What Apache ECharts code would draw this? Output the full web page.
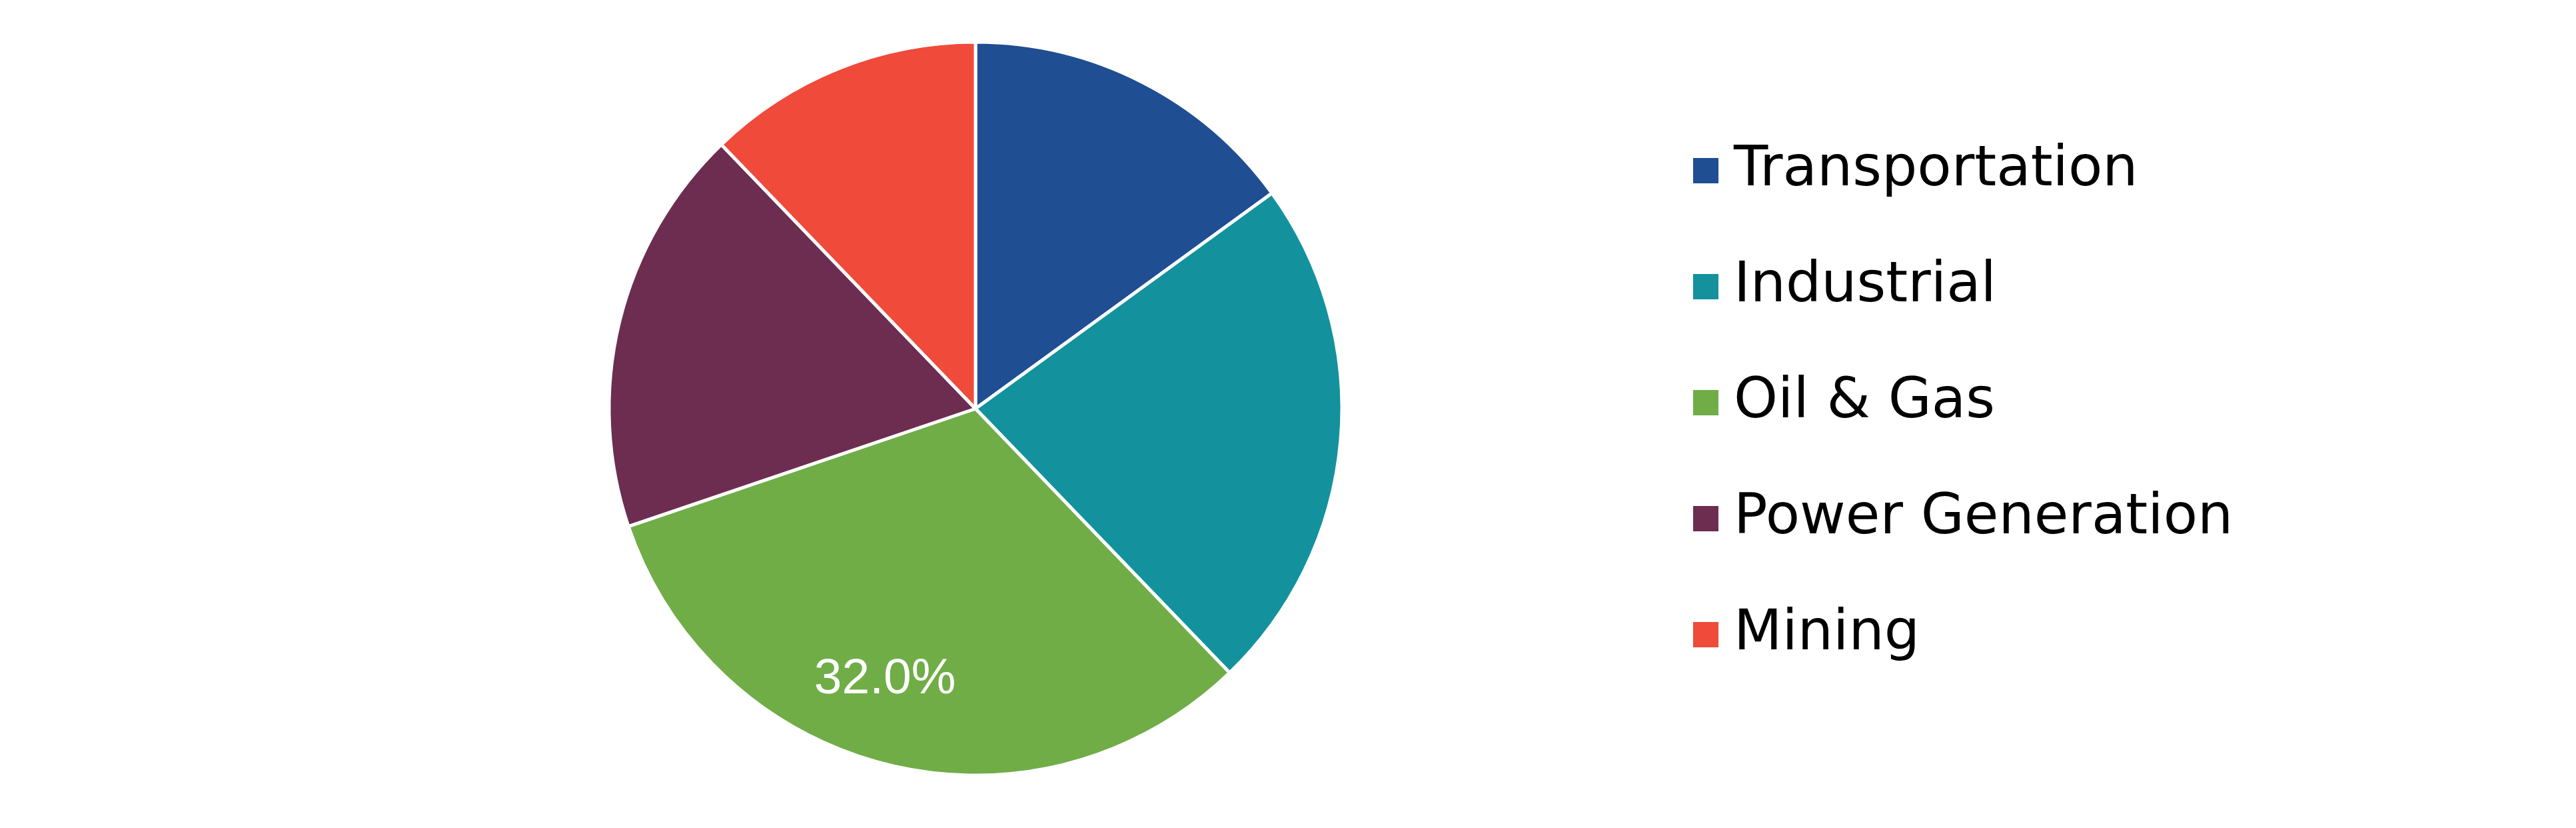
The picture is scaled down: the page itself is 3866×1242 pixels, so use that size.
<!DOCTYPE html>
<html>
<head>
    <meta charset="utf-8">
    <title>Pie</title>
    <script src="https://cdn.jsdelivr.net/npm/echarts@6/dist/echarts.min.js"></script>
    <style>
        html, body {margin: 0; padding: 0; background: #fff;}
        #chart {width: 3866px; height: 1242px;}
    </style>
</head>
<body>
<div id="chart"></div>
<script>
    // values (percent of total)
    var categories = ['Transportation', 'Industrial', 'Oil & Gas', 'Power Generation', 'Mining'];
    var shares = [15.0, 22.8, 32.0, 18.0, 12.2];
    var colors = ['#1F4E92', '#13929E', '#70AD47', '#6D2D51', '#F04A3A'];
    var labelledSlice = 'Oil & Gas';

    var pieData = categories.map(function (name, i) {
        return {name: name, value: shares[i]};
    });

    var myChart = echarts.init(document.getElementById('chart'));
    var option = {
        animation: false,
        color: colors,
        legend: {
            orient: 'vertical',
            left: 2534,
            top: 209,
            itemWidth: 40,
            itemHeight: 40,
            itemGap: 90,
            icon: 'rect',
            selectedMode: false,
            data: categories,
            textStyle: {
                fontFamily: 'DejaVu Sans',
                fontSize: 84,
                lineHeight: 82,
                color: '#000',
                padding: [0, 0, 0, 17]
            }
        },
        series: [
            {
                name: 'share',
                type: 'pie',
                center: [1464, 613],
                radius: 550,
                startAngle: 90,
                clockwise: true,
                silent: true,
                itemStyle: {borderColor: '#fff', borderWidth: 5},
                label: {show: false},
                labelLine: {show: false},
                data: pieData
            },
            {
                // transparent copy, only used to place the percent label further out
                name: 'label',
                type: 'pie',
                center: [1464, 613],
                radius: 830,
                startAngle: 90,
                clockwise: true,
                silent: true,
                percentPrecision: 1,
                itemStyle: {color: 'rgba(0,0,0,0)'},
                labelLine: {show: false},
                label: {
                    position: 'inside',
                    fontFamily: 'Liberation Sans',
                    fontSize: 75,
                    color: '#fff',
                    padding: [0, 74, 50, 0],
                    formatter: function (p) {
                        return p.percent.toFixed(1) + '%';
                    }
                },
                data: pieData.map(function (d) {
                    return {name: d.name, value: d.value, label: {show: d.name === labelledSlice}};
                })
            }
        ]
    };
    myChart.setOption(option);
</script>
</body>
</html>
